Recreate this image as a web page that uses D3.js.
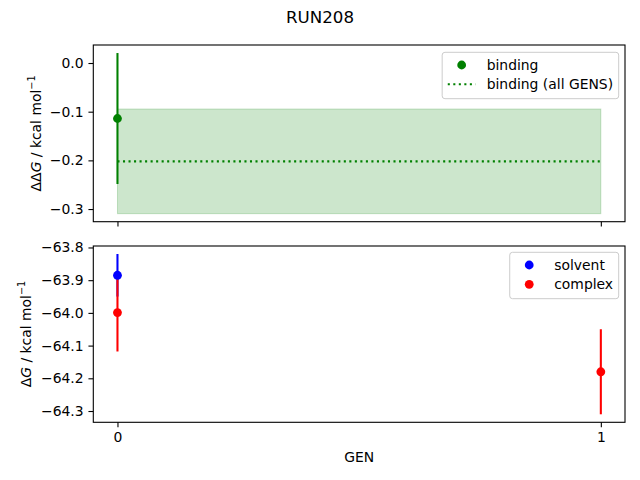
<!DOCTYPE html>
<html>
<head>
<meta charset="utf-8">
<script src="https://cdn.jsdelivr.net/npm/d3@7"></script>
<style>
  body { margin: 0; background: #fff; }
  svg { display: block; font-family: 'DejaVu Sans', sans-serif; }
</style>
</head>
<body>
<div id="chart"></div>
<script>
// data
const title = 'RUN208';
const genTicks = [0, 1];

const bindingGens = [0];
const bindingValues = [-0.114];
const bindingErrors = [0.1345];
const bindingAllMean = -0.202;
const bindingAllError = 0.1075;

const solventGens = [0];
const solventValues = [-63.885];
const solventErrors = [0.065];

const complexGens = [0, 1];
const complexValues = [-63.999, -64.18];
const complexErrors = [0.119, 0.13];

const topTicks = [0.0, -0.1, -0.2, -0.3];
const bottomTicks = [-63.8, -63.9, -64.0, -64.1, -64.2, -64.3];

const W = 640, H = 480;
const fontPx = 13.9;
const lw = 2.08;
const tickLen = 4.86;
const dotR = 4.4;

const svg = d3.select('#chart').append('svg')
  .attr('width', W).attr('height', H)
  .attr('viewBox', `0 0 ${W} ${H}`);

// matplotlib-like autoscale: 5% margin around the data extent
function padded(lo, hi) {
  const m = (hi - lo) * 0.05;
  return [lo - m, hi + m];
}

const axLeft = 93.3, axRight = 625;
const x = d3.scaleLinear().domain(padded(0, 1)).range([axLeft, axRight]);

const topLo = d3.min([bindingAllMean - bindingAllError, ...bindingValues.map((v, i) => v - bindingErrors[i])]);
const topHi = d3.max([bindingAllMean + bindingAllError, ...bindingValues.map((v, i) => v + bindingErrors[i])]);
const yTop = d3.scaleLinear().domain(padded(topLo, topHi)).range([221.7, 45]);

const botLo = d3.min([...solventValues.map((v, i) => v - solventErrors[i]), ...complexValues.map((v, i) => v - complexErrors[i])]);
const botHi = d3.max([...solventValues.map((v, i) => v + solventErrors[i]), ...complexValues.map((v, i) => v + complexErrors[i])]);
const yBot = d3.scaleLinear().domain(padded(botLo, botHi)).range([422.3, 246]);

const fmt = d3.format('.1f');

svg.append('text')
  .attr('x', 320).attr('y', 22.5)
  .attr('text-anchor', 'middle')
  .attr('font-size', 16.67)
  .text(title);

function drawAxes(y, ticks, showX) {
  const g = svg.append('g');
  const [y0] = y.range();

  g.append('g')
    .attr('transform', `translate(${axLeft},0)`)
    .call(d3.axisLeft(y).tickValues(ticks).tickFormat(fmt)
      .tickSize(tickLen).tickPadding(4.86))
    .call(s => s.select('.domain').remove())
    .call(s => s.selectAll('line').attr('stroke-width', 1.1))
    .call(s => s.selectAll('text').attr('font-size', fontPx)
      .attr('font-family', 'DejaVu Sans').attr('fill', '#000'));

  g.append('g')
    .attr('transform', `translate(0,${y0})`)
    .call(d3.axisBottom(x).tickValues(genTicks).tickFormat(showX ? d3.format('d') : '')
      .tickSize(tickLen).tickPadding(4.86))
    .call(s => s.select('.domain').remove())
    .call(s => s.selectAll('line').attr('stroke-width', 1.1))
    .call(s => s.selectAll('text').attr('font-size', fontPx)
      .attr('font-family', 'DejaVu Sans').attr('fill', '#000'));

  return g;
}

function frame(y) {
  const [y0, y1] = y.range();
  svg.append('rect')
    .attr('x', axLeft).attr('y', y1)
    .attr('width', axRight - axLeft).attr('height', y0 - y1)
    .attr('fill', 'none').attr('stroke', '#000').attr('stroke-width', 1.1);
}

function yLabel(px, cy, delta) {
  const t = svg.append('text')
    .attr('transform', `translate(${px},${cy}) rotate(-90)`)
    .attr('text-anchor', 'middle')
    .attr('font-size', fontPx);
  t.append('tspan').text(delta);
  t.append('tspan').attr('font-style', 'italic').text('G');
  t.append('tspan').text(' / kcal mol');
  t.append('tspan').attr('font-size', fontPx * 0.7).attr('dy', -5.5).text('−1');
}

function errorBars(gens, vals, errs, y, color) {
  svg.append('g').selectAll('line')
    .data(gens.map((gv, i) => ({ g: gv, v: vals[i], e: errs[i] })))
    .join('line')
    .attr('x1', d => x(d.g)).attr('x2', d => x(d.g))
    .attr('y1', d => y(d.v + d.e)).attr('y2', d => y(d.v - d.e))
    .attr('stroke', color).attr('stroke-width', lw);
}

function dots(gens, vals, y, color) {
  svg.append('g').selectAll('circle')
    .data(gens.map((gv, i) => ({ g: gv, v: vals[i] })))
    .join('circle')
    .attr('cx', d => x(d.g)).attr('cy', d => y(d.v))
    .attr('r', dotR)
    .attr('fill', color);
}

function legend(right, top, items) {
  const pad = 5.6, handleLen = 27.8, handleGap = 11.1, rowH = 19.3, firstRow = 12.7;
  const g = svg.append('g');
  const box = g.append('rect');
  const texts = items.map((it, i) => g.append('text')
    .attr('y', top + firstRow + i * rowH + 4.5)
    .attr('font-size', fontPx)
    .text(it.label));
  const tw = d3.max(texts, t => t.node().getComputedTextLength());
  const width = pad * 2 + handleLen + handleGap + tw;
  const left = right - width;
  box.attr('x', left).attr('y', top)
    .attr('width', width).attr('height', firstRow * 2 + (items.length - 1) * rowH + 1.7)
    .attr('rx', 2.8)
    .attr('fill', 'rgba(255,255,255,0.8)')
    .attr('stroke', '#cccccc').attr('stroke-width', 1);
  texts.forEach(t => t.attr('x', left + pad + handleLen + handleGap));
  items.forEach((it, i) => {
    const cy = top + firstRow + i * rowH;
    const hx = left + pad;
    if (it.type === 'dot') {
      g.append('circle').attr('cx', hx + handleLen / 2).attr('cy', cy)
        .attr('r', dotR).attr('fill', it.color);
    } else {
      g.append('line').attr('x1', hx).attr('x2', hx + handleLen)
        .attr('y1', cy).attr('y2', cy)
        .attr('stroke', it.color).attr('stroke-width', lw)
        .attr('stroke-dasharray', '2.08,3.44');
    }
  });
}

// ---- top panel: binding free energy ----
svg.append('rect')
  .attr('x', x(0)).attr('width', x(1) - x(0))
  .attr('y', yTop(bindingAllMean + bindingAllError))
  .attr('height', yTop(bindingAllMean - bindingAllError) - yTop(bindingAllMean + bindingAllError))
  .attr('fill', 'green').attr('fill-opacity', 0.2)
  .attr('stroke', 'green').attr('stroke-opacity', 0.2).attr('stroke-width', 1);

svg.append('line')
  .attr('x1', x(0)).attr('x2', x(1))
  .attr('y1', yTop(bindingAllMean)).attr('y2', yTop(bindingAllMean))
  .attr('stroke', 'green').attr('stroke-width', lw)
  .attr('stroke-dasharray', '2.08,3.44');

errorBars(bindingGens, bindingValues, bindingErrors, yTop, 'green');
dots(bindingGens, bindingValues, yTop, 'green');

drawAxes(yTop, topTicks, false);
frame(yTop);
yLabel(40.5, 133.4, 'ΔΔ');
legend(618.7, 52.3, [
  { label: 'binding', color: 'green', type: 'dot' },
  { label: 'binding (all GENS)', color: 'green', type: 'dotted' }
]);

// ---- bottom panel: solvent / complex legs ----
errorBars(solventGens, solventValues, solventErrors, yBot, 'blue');
errorBars(complexGens, complexValues, complexErrors, yBot, 'red');
dots(solventGens, solventValues, yBot, 'blue');
dots(complexGens, complexValues, yBot, 'red');

drawAxes(yBot, bottomTicks, true);
frame(yBot);
yLabel(30.5, 334, 'Δ');
legend(618.7, 252.3, [
  { label: 'solvent', color: 'blue', type: 'dot' },
  { label: 'complex', color: 'red', type: 'dot' }
]);

svg.append('text')
  .attr('x', (axLeft + axRight) / 2).attr('y', 462)
  .attr('text-anchor', 'middle')
  .attr('font-size', fontPx)
  .text('GEN');
</script>
</body>
</html>
